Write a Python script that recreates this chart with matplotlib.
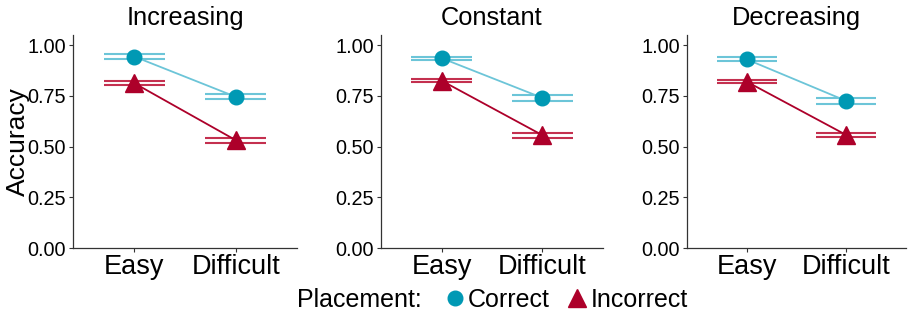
import matplotlib
matplotlib.use("Agg")
import matplotlib.pyplot as plt
from matplotlib.lines import Line2D

plt.rcParams['font.family'] = ['Liberation Sans', 'DejaVu Sans']

panels = ["Increasing", "Constant", "Decreasing"]
difficulty = ["Easy", "Difficult"]

correct_mean = [[0.944, 0.745], [0.936, 0.740], [0.930, 0.725]]
correct_err = [[0.010, 0.012], [0.007, 0.014], [0.010, 0.014]]
incorrect_mean = [[0.813, 0.531], [0.825, 0.556], [0.820, 0.557]]
incorrect_err = [[0.011, 0.012], [0.009, 0.012], [0.009, 0.011]]

yticks = [0.0, 0.25, 0.5, 0.75, 1.0]

c_dark = "#0099B4"
c_light = "#6CC5D8"
i_dark = "#AD002A"
i_light = "#C4304F"

W, H = 917, 321
fig = plt.figure(figsize=(W / 100, H / 100), dpi=100)

# pixel extents of each panel (left, right)
extents = [(73, 297), (381, 603), (687, 906)]
top, bottom = 35, 248

x = [1, 2]
for k, name in enumerate(panels):
    l, r = extents[k]
    ax = fig.add_axes([l / W, (H - bottom) / H, (r - l) / W, (bottom - top) / H])

    for mean, err, dark, light, mk, ms in [
        (correct_mean[k], correct_err[k], c_dark, c_light, "o", 10.5),
        (incorrect_mean[k], incorrect_err[k], i_dark, i_light, "^", 13),
    ]:
        lo = [m - e for m, e in zip(mean, err)]
        hi = [m + e for m, e in zip(mean, err)]
        ax.hlines(lo, [xx - 0.3 for xx in x], [xx + 0.3 for xx in x], colors=light, lw=1.5, zorder=2)
        ax.hlines(hi, [xx - 0.3 for xx in x], [xx + 0.3 for xx in x], colors=light, lw=1.5, zorder=2)
        ax.plot(x, mean, color=light if mk == "o" else dark, lw=1.3, zorder=3)
        ax.plot(x, mean, ls="none", marker=mk, color=dark, ms=ms, mec=dark, zorder=4)

    ax.set_xlim(0.4, 2.6)
    ax.set_ylim(0, 1.05)
    ax.set_xticks(x)
    ax.set_xticklabels(difficulty, fontsize=19.5)
    ax.set_yticks(yticks)
    ax.set_yticklabels(["%.2f" % t for t in yticks], fontsize=14.3)
    ax.tick_params(length=3, width=0.8, color="#333333", pad=2)
    ax.tick_params(axis="x", pad=1)
    for s in ["top", "right"]:
        ax.spines[s].set_visible(False)
    for s in ["left", "bottom"]:
        ax.spines[s].set_color("#333333")
        ax.spines[s].set_linewidth(0.9)
    ax.set_title(name, fontsize=18.3, pad=7)
    if k == 0:
        ax.set_ylabel("Accuracy", fontsize=19)
        ax.yaxis.set_label_coords(-0.19, 0.5)

fig.text(297 / W, 1 - 300 / H, "Placement:", fontsize=18, ha="left", va="center")
handles = [
    Line2D([], [], ls="none", marker="o", color=c_dark, ms=10.5),
    Line2D([], [], ls="none", marker="^", color=i_dark, ms=13),
]
fig.legend(handles, ["Correct", "Incorrect"], loc="center left", bbox_to_anchor=(447 / W, 1 - 300 / H),
           ncol=2, frameon=False, fontsize=18, handletextpad=0.24, columnspacing=0.8,
           handlelength=0.6, borderpad=0, borderaxespad=0)

fig.savefig("out.png", dpi=100)
